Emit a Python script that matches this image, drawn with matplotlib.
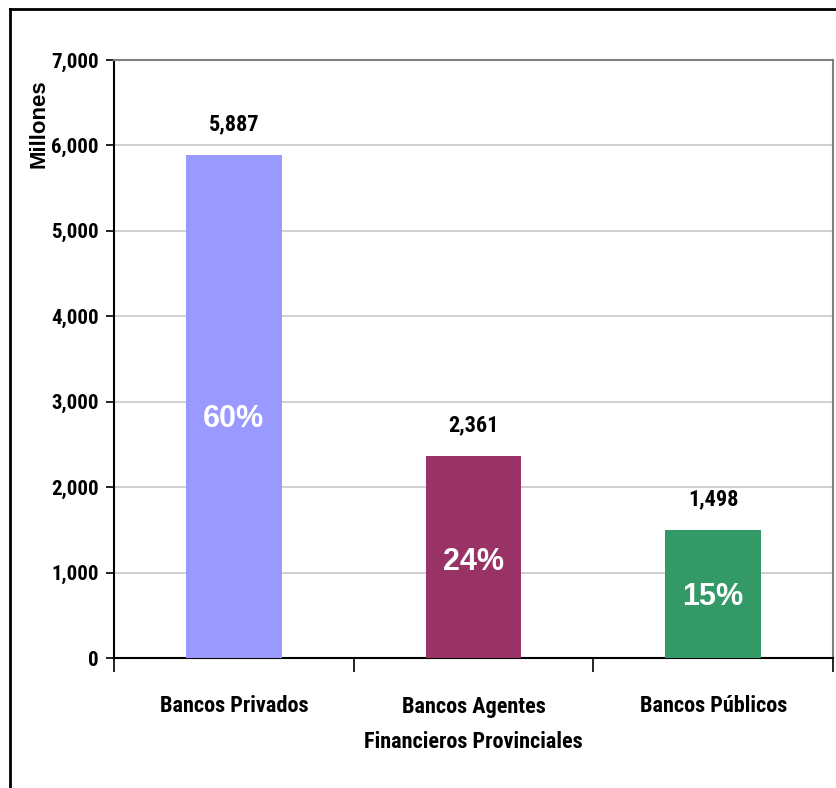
import matplotlib
matplotlib.use("Agg")
import matplotlib.pyplot as plt
from matplotlib.lines import Line2D

# Datos

categorias = ["Bancos Privados", "Bancos Agentes\nFinancieros Provinciales", "Bancos Públicos"]
montos = [5887, 2361, 1498]
porcentajes = ["60%", "24%", "15%"]
colores = ["#9999FF", "#993366", "#339966"]
yticks = [0, 1000, 2000, 3000, 4000, 5000, 6000, 7000]

narrow = ["Roboto Condensed", "Liberation Sans Narrow", "DejaVu Sans"]
normal = ["Liberation Sans", "DejaVu Sans"]

W, H = 837, 788
fig = plt.figure(figsize=(W / 100, H / 100), dpi=100)
ax = fig.add_axes([114 / W, 1 - 658 / H, (833 - 114) / W, (658 - 60) / H])

x = list(range(len(categorias)))
ax.bar(x, montos, width=0.4, color=colores, zorder=3)

# Etiquetas de valor y porcentaje
for xi, v, p in zip(x, montos, porcentajes):
    ax.annotate(f"{v:,}", (xi, v), xytext=(0, 22), textcoords="offset points",
                ha="center", va="center", fontsize=16, fontweight="bold",
                family=narrow, fontstretch="condensed")
    ax.text(xi, v * 0.475, p, ha="center", va="center", color="white",
            fontsize=22, fontweight="bold", family=normal, zorder=4)

ax.set_xlim(-0.5, 2.5)
ax.set_ylim(0, 7000)
ax.set_yticks(yticks)
ax.set_yticklabels([f"{t:,}" for t in yticks], fontsize=15, fontweight="bold",
                   family=narrow, fontstretch="condensed")
ax.tick_params(axis="y", direction="out", length=6, width=1.2, pad=5)

# Ticks del eje x en los bordes de categorias, etiquetas en el centro
ax.set_xticks([-0.5, 0.5, 1.5, 2.5])
ax.set_xticklabels([])
ax.tick_params(axis="x", direction="out", length=10, width=1.2)
for xi, c in zip(x, categorias):
    ax.annotate(c, (xi, 0), xytext=(0, -27), textcoords="offset points",
                ha="center", va="top", fontsize=16, fontweight="bold", family=narrow,
                fontstretch="condensed", linespacing=1.8, annotation_clip=False)

ax.grid(axis="y", color="#C8C8C8", linewidth=1.2, zorder=0)
ax.set_axisbelow(True)
for s in ["top", "right"]:
    ax.spines[s].set_color("#808080")
    ax.spines[s].set_linewidth(1.5)
for s in ["left", "bottom"]:
    ax.spines[s].set_color("black")
    ax.spines[s].set_linewidth(1.5)

fig.text(39 / W, 1 - 124 / H, "Millones", rotation=90, ha="center", va="center",
         fontsize=16, fontweight="bold", family=normal)

# Marco exterior
fig.add_artist(Line2D([10 / W, 10 / W], [0, 1 - 9 / H], color="black", linewidth=2))
fig.add_artist(Line2D([10 / W, 1], [1 - 9 / H, 1 - 9 / H], color="black", linewidth=2))

fig.savefig("out.png", dpi=100)
